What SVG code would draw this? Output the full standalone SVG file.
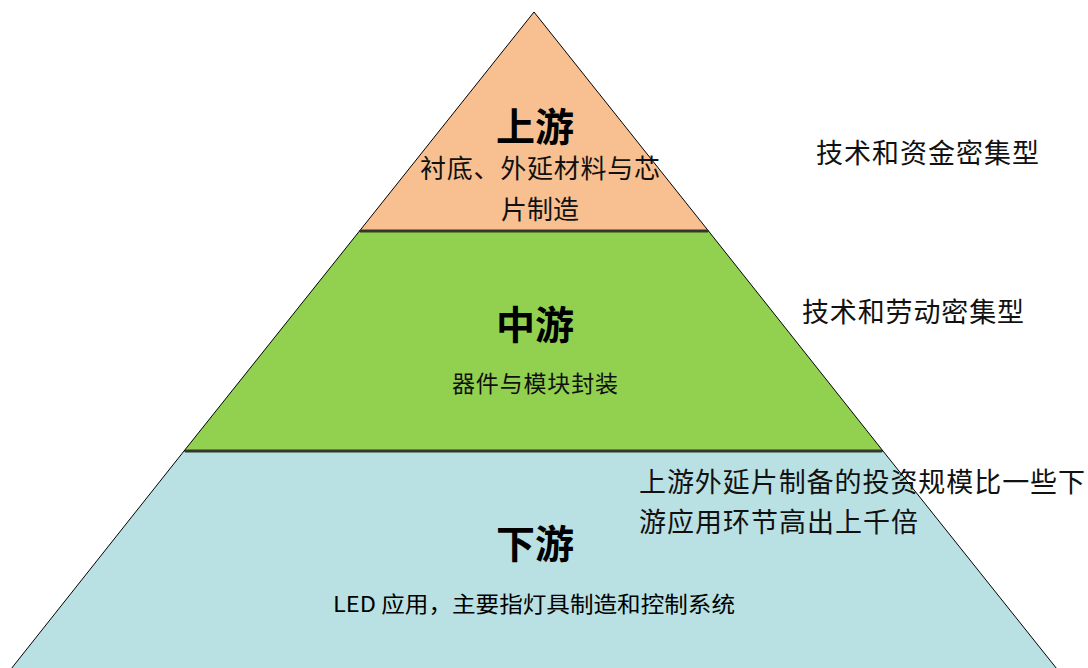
<svg xmlns="http://www.w3.org/2000/svg" width="1088" height="668" viewBox="0 0 1088 668">
  <style>
    .layer { stroke: #000; stroke-width: 1; stroke-linejoin: miter; }
    .sep { stroke: #36362a; stroke-width: 3; }
    text { font-family: "Noto Sans CJK SC", "Noto Sans", sans-serif; fill: #000; }
    .title { font-size: 39px; font-weight: bold; text-anchor: middle; }
    .sub { font-size: 26px; text-anchor: middle; fill: #111; }
    .side { font-size: 27px; fill: #111; }
  </style>
  <rect width="1088" height="668" fill="#fff"/>
  <g id="upstream">
    <polygon class="layer" points="534,12 359.5,231 708.5,231" fill="#F8C090"/>
    <text class="title" x="535" y="141">上游</text>
    <text class="sub" x="540" y="178" textLength="240">衬底、外延材料与芯</text>
    <text class="sub" x="540" y="219">片制造</text>
  </g>
  <g id="midstream">
    <polygon class="layer" points="359.5,231 708.5,231 883,451 184,451" fill="#92D050"/>
    <text class="title" x="535" y="339">中游</text>
    <text class="sub" x="535" y="392" style="font-size:23px" textLength="166">器件与模块封装</text>
  </g>
  <g id="downstream">
    <polygon class="layer" points="184,451 883,451 1057,669 11,669" fill="#B9E0E3"/>
    <text class="title" x="535" y="558">下游</text>
    <text x="333" y="612" style="font-size:22px" textLength="402" lengthAdjust="spacingAndGlyphs">LED 应用，主要指灯具制造和控制系统</text>
  </g>
  <g id="connectors">
    <line class="sep" x1="360" y1="231" x2="708" y2="231"/>
    <line class="sep" x1="185" y1="451" x2="882" y2="451"/>
  </g>
  <g id="notes">
    <text class="side" x="816" y="163" textLength="223">技术和资金密集型</text>
    <text class="side" x="802" y="322" textLength="222">技术和劳动密集型</text>
    <text class="side" x="639" y="492" textLength="446">上游外延片制备的投资规模比一些下</text>
    <text class="side" x="639" y="532" textLength="279">游应用环节高出上千倍</text>
  </g>
</svg>
